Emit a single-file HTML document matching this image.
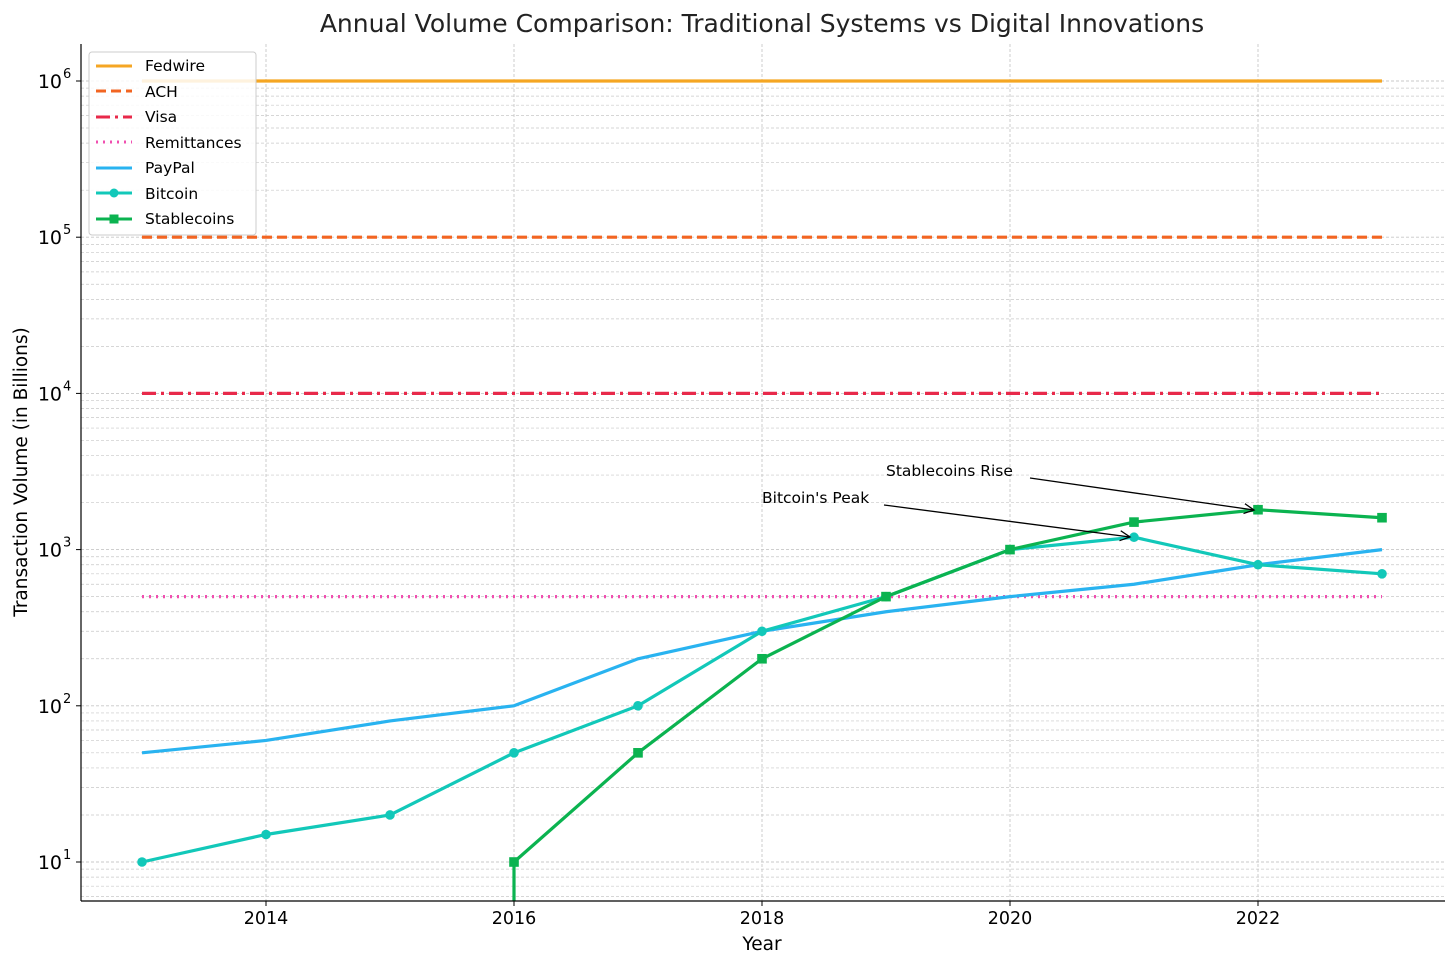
<!DOCTYPE html>
<html><head><meta charset="utf-8"><style>
body{margin:0;background:#fff;}
svg text{font-family:"DejaVu Sans","Liberation Sans",sans-serif;}
</style></head><body>
<svg id="chart" width="1456" height="967" xmlns="http://www.w3.org/2000/svg">
<defs>
<clipPath id="clip"><rect x="81" y="44" width="1364" height="857"/></clipPath>
</defs>
<g id="grid"></g>
<g id="series" clip-path="url(#clip)"></g>
<g id="axes"></g>
</svg>
<script>
const years=[2013,2014,2015,2016,2017,2018,2019,2020,2021,2022,2023];
const fedwire=[1e6,1e6,1e6,1e6,1e6,1e6,1e6,1e6,1e6,1e6,1e6];
const ach=[1e5,1e5,1e5,1e5,1e5,1e5,1e5,1e5,1e5,1e5,1e5];
const visa=[1e4,1e4,1e4,1e4,1e4,1e4,1e4,1e4,1e4,1e4,1e4];
const remit=[500,500,500,500,500,500,500,500,500,500,500];
const paypal=[50,60,80,100,200,300,400,500,600,800,1000];
const bitcoin=[10,15,20,50,100,300,500,1000,1200,800,700];
const stable=[0,0,0,10,50,200,500,1000,1500,1800,1600];
const xTicks=[2014,2016,2018,2020,2022];
const yExp=[1,2,3,4,5,6];

const NS="http://www.w3.org/2000/svg";
const X=y=>142+(y-2013)*124;
const Y=v=>862-(Math.log10(v)-1)*156.2;
function el(p,t,a){const e=document.createElementNS(NS,t);for(const k in a)e.setAttribute(k,a[k]);p.appendChild(e);return e;}
const grid=document.getElementById('grid'),ser=document.getElementById('series'),ax=document.getElementById('axes');
for(let e=0;e<=6;e++)for(let m=1;m<10;m++){const v=m*Math.pow(10,e);const y=Y(v);if(y<44||y>901)continue;
 const g=el(grid,'line',{x1:81,x2:1445,y1:y,y2:y,stroke:'#c8c8c8','stroke-width':m==1?0.9:0.7,'stroke-dasharray':'3,2'});
 }
xTicks.forEach(t=>{const g=el(grid,'line',{x1:X(t),x2:X(t),y1:44,y2:901,stroke:'#c8c8c8','stroke-width':0.9,'stroke-dasharray':'3,2'});
 });
function line(arr,color,dash,name,w){const pts=[];let prevZero=false;
 years.forEach((y,i)=>{if(arr[i]<=0){prevZero=true;return;}
  if(prevZero&&pts.length==0)pts.push(X(y)+',1000');
  pts.push(X(y)+','+Y(arr[i]));});
 const p=el(ser,'polyline',{points:pts.join(' '),fill:'none',stroke:color,'stroke-width':w||3.2,'stroke-dasharray':dash||'','stroke-linejoin':'round'});
 }
line(fedwire,'#f5a623','', 'fedwire-line');
line(ach,'#f26522','10,5','ach-line');
line(visa,'#e8294a','14,5,3,5','visa-line');
line(remit,'#f04fb0','2,5','remittances-line');
line(paypal,'#29b3f0','','paypal-line');
line(bitcoin,'#12c8b9','','bitcoin-line');
line(stable,'#0bb350','','stablecoins-line');
years.forEach((y,i)=>{const c=el(ser,'circle',{cx:X(y),cy:Y(bitcoin[i]),r:4.8,fill:'#12c8b9'});
 
 if(stable[i]>0){const r=el(ser,'rect',{x:X(y)-4.8,y:Y(stable[i])-4.8,width:9.6,height:9.6,fill:'#0bb350'});
 }});
el(ax,'line',{x1:81,x2:81,y1:44,y2:901,stroke:'#000','stroke-width':1.2});
el(ax,'line',{x1:81,x2:1445,y1:901,y2:901,stroke:'#000','stroke-width':1.2});
xTicks.forEach(t=>{el(ax,'line',{x1:X(t),x2:X(t),y1:901,y2:906,stroke:'#000'});
 const tx=el(ax,'text',{x:X(t),y:924,'text-anchor':'middle','font-size':17.5});tx.textContent=t;
 });
yExp.forEach(e=>{const y=Y(Math.pow(10,e));el(ax,'line',{x1:76,x2:81,y1:y,y2:y,stroke:'#000'});
 const tx=el(ax,'text',{x:62,y:y+7,'text-anchor':'end','font-size':19});tx.textContent='10';
 
 const s=el(ax,'text',{x:63,y:y-3,'font-size':13});s.textContent=e;});
</script>
<svg width="1456" height="967" style="position:absolute;left:0;top:0" xmlns="http://www.w3.org/2000/svg">
<defs><marker id="arr2" markerWidth="12" markerHeight="12" refX="10" refY="6" orient="auto" markerUnits="userSpaceOnUse"><path d="M0,1 L10,6 L0,11" fill="none" stroke="#000" stroke-width="1.3"/></marker></defs>
<text x="762" y="32" text-anchor="middle" font-size="25" font-family="DejaVu Sans,Liberation Sans,sans-serif" fill="#222">Annual Volume Comparison: Traditional Systems vs Digital Innovations</text>
<text x="762" y="950" text-anchor="middle" font-size="18.5" font-family="DejaVu Sans,Liberation Sans,sans-serif">Year</text>
<text transform="translate(27,472) rotate(-90)" text-anchor="middle" font-size="18.5" font-family="DejaVu Sans,Liberation Sans,sans-serif">Transaction Volume (in Billions)</text>
<g font-size="15.5" font-family="DejaVu Sans,Liberation Sans,sans-serif">
<text x="886" y="476">Stablecoins Rise</text>
<line x1="1030" y1="478" x2="1254" y2="510" stroke="#000" stroke-width="1.3" marker-end="url(#arr2)"/>
<text x="762" y="503">Bitcoin's Peak</text>
<line x1="884" y1="505" x2="1130" y2="537" stroke="#000" stroke-width="1.3" marker-end="url(#arr2)"/>
</g>
<g font-size="15.5" font-family="DejaVu Sans,Liberation Sans,sans-serif">
<rect x="89" y="52" width="167" height="183" rx="3" fill="#fff" fill-opacity="0.85" stroke="#ccc"/>
<line x1="96" x2="132" y1="66" y2="66" stroke="#f5a623" stroke-width="3"/><text x="145" y="71">Fedwire</text>
<line x1="96" x2="132" y1="91" y2="91" stroke="#f26522" stroke-width="3" stroke-dasharray="10,5"/><text x="145" y="97">ACH</text>
<line x1="96" x2="132" y1="117" y2="117" stroke="#e8294a" stroke-width="3" stroke-dasharray="14,5,3,5"/><text x="145" y="122">Visa</text>
<line x1="96" x2="132" y1="142" y2="142" stroke="#f04fb0" stroke-width="3" stroke-dasharray="2,5"/><text x="145" y="148">Remittances</text>
<line x1="96" x2="132" y1="168" y2="168" stroke="#29b3f0" stroke-width="3"/><text x="145" y="173">PayPal</text>
<line x1="96" x2="132" y1="193" y2="193" stroke="#12c8b9" stroke-width="3"/><circle cx="114" cy="193" r="4.5" fill="#12c8b9"/><text x="145" y="199">Bitcoin</text>
<line x1="96" x2="132" y1="219" y2="219" stroke="#0bb350" stroke-width="3"/><rect x="109.5" y="214.5" width="9" height="9" fill="#0bb350"/><text x="145" y="224">Stablecoins</text>
</g>
</svg>
</body></html>
